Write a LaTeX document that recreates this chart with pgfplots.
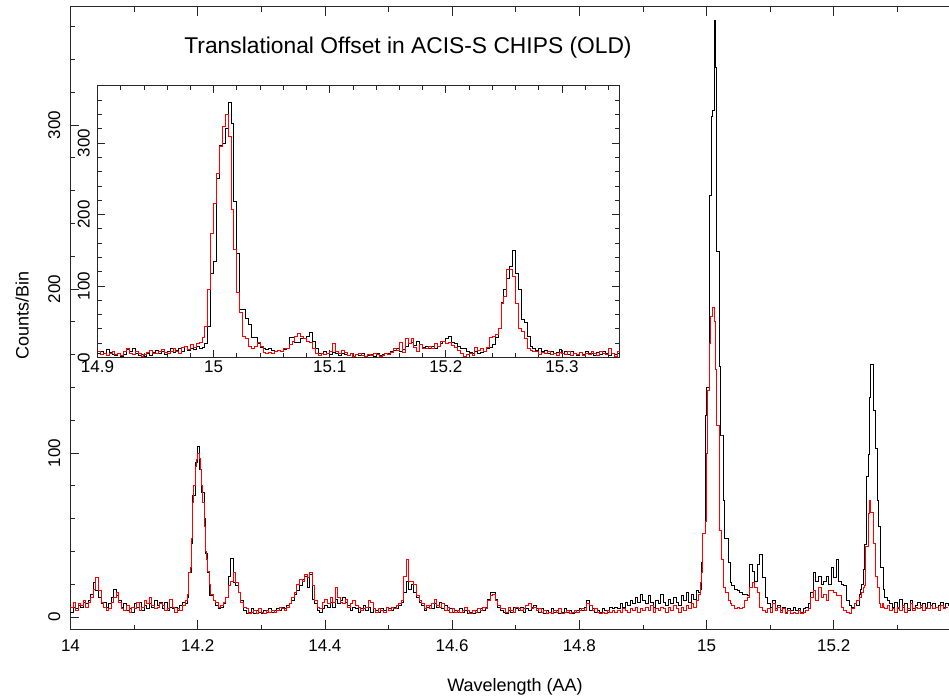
\documentclass[border=0pt]{standalone}
\usepackage{fontspec}
\setmainfont{Liberation Sans}
\usepackage{pgfplots}
\usepackage{pgfplotstable}
\pgfplotsset{compat=1.18}

\pgfplotstableread{
x b r
14.000 3 6
14.004 6 9
14.008 5 4
14.012 7 8
14.016 6 7
14.020 9 10
14.024 8 6
14.028 10 9
14.032 14 12
14.036 21 17
14.040 16 24
14.044 12 16
14.048 8 9
14.052 9 6
14.056 6 4
14.060 8 5
14.064 12 9
14.068 17 12
14.072 13 15
14.076 10 9
14.080 6 5
14.084 8 4
14.088 4 7
14.092 5 3
14.096 3 6
14.100 8 5
14.104 6 9
14.108 9 4
14.112 4 6
14.116 7 10
14.120 5 8
14.124 8 12
14.128 6 7
14.132 10 5
14.136 7 6
14.140 9 8
14.144 5 7
14.148 9 4
14.152 4 5
14.156 6 11
14.160 5 6
14.164 6 3
14.168 4 5
14.172 7 4
14.176 9 7
14.180 8 10
14.184 12 14
14.186 27 27
14.188 27 30
14.190 45 48
14.192 74 70
14.194 74 80
14.196 94 92
14.198 94 96
14.200 104 100
14.202 90 97
14.204 90 90
14.206 76 80
14.208 76 70
14.210 60 55
14.212 39 40
14.214 39 35
14.216 27 28
14.218 13 20
14.220 13 14
14.224 10 10
14.228 7 9
14.232 5 6
14.236 6 7
14.240 8 9
14.244 12 12
14.248 25 19
14.252 36 22
14.256 21 27
14.260 19 21
14.264 15 15
14.268 10 9
14.272 4 6
14.276 2 5
14.280 3 2
14.284 5 3
14.288 2 4
14.292 4 2
14.296 3 5
14.300 2 3
14.304 4 2
14.308 3 4
14.312 5 3
14.316 3 4
14.320 4 3
14.324 5 4
14.328 4 6
14.332 6 5
14.336 5 4
14.340 7 6
14.344 8 8
14.348 10 12
14.352 14 15
14.356 16 20
14.360 19 23
14.364 23 22
14.368 25 26
14.372 18 24
14.376 26 27
14.380 11 19
14.384 8 10
14.388 4 6
14.392 3 5
14.396 5 9
14.400 7 11
14.404 6 8
14.408 9 12
14.412 6 9
14.416 11 18
14.420 8 12
14.424 10 9
14.428 12 8
14.432 9 11
14.436 7 6
14.440 4 8
14.444 6 10
14.448 5 7
14.452 3 6
14.456 5 4
14.460 7 5
14.464 4 6
14.468 6 10
14.472 3 9
14.476 5 5
14.480 4 3
14.484 3 5
14.488 5 4
14.492 4 3
14.496 6 6
14.500 5 4
14.504 4 6
14.508 6 5
14.512 5 7
14.516 7 8
14.520 9 10
14.524 15 25
14.528 22 35
14.532 17 22
14.536 20 22
14.540 15 20
14.544 12 13
14.548 9 10
14.552 7 8
14.556 4 5
14.560 6 7
14.564 7 5
14.568 5 8
14.572 8 11
14.576 6 7
14.580 9 6
14.584 5 8
14.588 7 4
14.592 4 6
14.596 5 3
14.600 3 5
14.604 4 3
14.608 3 4
14.612 5 3
14.616 3 4
14.620 4 6
14.624 2 4
14.628 3 2
14.632 2 4
14.636 4 3
14.640 3 5
14.644 5 4
14.648 4 6
14.652 6 5
14.656 11 10
14.660 15 13
14.664 15 14
14.668 11 10
14.672 6 7
14.676 4 5
14.680 3 5
14.684 2 3
14.688 4 6
14.692 3 4
14.696 6 3
14.700 5 6
14.704 4 5
14.708 6 4
14.712 3 5
14.716 5 7
14.720 4 8
14.724 6 5
14.728 7 6
14.732 5 4
14.736 3 5
14.740 5 3
14.744 2 4
14.748 4 2
14.752 3 3
14.756 5 2
14.760 3 4
14.764 4 3
14.768 2 5
14.772 3 2
14.776 5 3
14.780 3 4
14.784 4 2
14.788 2 3
14.792 3 4
14.796 4 3
14.800 5 4
14.804 4 5
14.808 6 4
14.812 10 8
14.816 4 7
14.820 5 4
14.824 3 5
14.828 4 3
14.832 3 2
14.836 5 3
14.840 4 2
14.844 3 4
14.848 6 3
14.852 5 4
14.856 6 3
14.860 5 4
14.864 8 3
14.868 6 5
14.872 9 4
14.876 7 3
14.880 10 5
14.884 8 4
14.888 12 6
14.892 9 3
14.896 14 5
14.900 10 4
14.904 8 6
14.908 13 4
14.912 9 7
14.916 6 3
14.920 10 5
14.924 8 4
14.928 14 6
14.932 9 5
14.936 7 3
14.940 11 6
14.944 8 4
14.948 12 7
14.952 9 5
14.956 7 3
14.960 13 6
14.964 10 4
14.968 15 7
14.972 9 5
14.976 14 8
14.980 11 6
14.984 16 10
14.988 15 14
14.990 17 21
14.992 33 27
14.994 51 51
14.996 51 51
14.998 123 58
15.000 140 100
15.002 140 138
15.004 257 167
15.006 257 183
15.008 305 183
15.010 309 189
15.012 364 180
15.014 335 151
15.016 223 117
15.018 223 117
15.020 153 53
15.022 111 53
15.024 111 35
15.026 71 18
15.028 48 18
15.030 48 15
15.032 48 15
15.034 33 10
15.036 33 10
15.038 21 8
15.040 19 7
15.044 17 5
15.048 16 6
15.052 15 5
15.056 14 6
15.060 14 10
15.064 13 12
15.068 32 18
15.072 28 21
15.076 22 18
15.080 32 15
15.084 38 6
15.088 24 4
15.092 12 3
15.096 8 5
15.100 6 3
15.104 10 8
15.108 5 4
15.112 7 6
15.116 4 3
15.120 6 5
15.124 3 2
15.128 5 4
15.132 4 2
15.136 6 3
15.140 4 2
15.144 5 4
15.148 3 2
15.152 5 3
15.156 6 4
15.160 8 5
15.164 15 12
15.168 27 16
15.172 22 10
15.176 25 18
15.180 20 12
15.184 22 14
15.188 25 10
15.192 20 16
15.196 30 16
15.200 24 15
15.204 35 13
15.208 22 13
15.212 20 6
15.216 19 4
15.220 10 3
15.224 7 2
15.228 6 5
15.232 8 8
15.236 7 10
15.240 14 12
15.242 17 12
15.244 20 15
15.246 29 18
15.248 44 19
15.250 44 43
15.252 86 43
15.254 99 63
15.256 134 71
15.258 154 64
15.260 154 64
15.262 126 45
15.264 126 45
15.266 103 25
15.268 71 18
15.270 55 18
15.272 55 8
15.274 30 6
15.276 30 8
15.278 17 6
15.280 12 5
15.284 10 7
15.288 8 4
15.292 6 5
15.296 9 3
15.300 5 6
15.304 11 4
15.308 6 7
15.312 8 3
15.316 4 5
15.320 10 8
15.324 5 4
15.328 7 6
15.332 9 5
15.336 6 7
15.340 8 4
15.344 5 6
15.348 9 5
15.352 7 7
15.356 8 5
15.360 6 6
15.364 7 4
15.368 9 7
15.372 6 5
15.376 8 6
15.380 7 6
}\maindata

\pgfplotstableread{
x b r
14.9000 6 8
14.9025 9 4
14.9050 5 6
14.9075 11 3
14.9100 7 5
14.9125 4 8
14.9150 3 4
14.9175 5 6
14.9200 2 3
14.9225 4 9
14.9250 11 12
14.9275 8 6
14.9300 12 4
14.9325 5 8
14.9350 3 5
14.9375 4 2
14.9400 2 4
14.9425 6 7
14.9450 3 10
14.9475 7 6
14.9500 10 5
14.9525 6 8
14.9550 8 11
14.9575 4 7
14.9600 9 5
14.9625 12 9
14.9650 7 12
14.9675 10 8
14.9700 12 6
14.9725 8 14
14.9750 15 16
14.9775 10 11
14.9800 13 18
14.9825 11 14
14.9850 16 20
14.9875 12 21
14.9900 14 28
14.9925 20 44
14.9950 44 95
14.9975 118 174
15.0000 135 216
15.0025 251 258
15.0050 297 295
15.0075 300 323
15.0100 320 340
15.0125 357 309
15.0150 328 207
15.0175 219 151
15.0200 146 91
15.0225 67 63
15.0250 67 30
15.0275 55 26
15.0300 46 16
15.0325 28 12
15.0350 28 16
15.0375 19 21
15.0400 14 16
15.0425 12 7
15.0450 11 5
15.0475 12 7
15.0500 10 6
15.0525 9 8
15.0550 10 10
15.0575 8 9
15.0600 11 12
15.0625 12 12
15.0650 28 18
15.0675 28 23
15.0700 21 30
15.0725 21 33
15.0750 26 30
15.0775 26 26
15.0800 30 22
15.0825 35 21
15.0850 23 12
15.0875 12 5
15.0900 6 3
15.0925 5 5
15.0950 8 4
15.0975 6 6
15.1000 4 9
15.1025 7 19
15.1050 5 8
15.1075 3 5
15.1100 6 10
15.1125 4 7
15.1150 3 3
15.1175 5 5
15.1200 2 2
15.1225 4 4
15.1250 3 6
15.1275 5 3
15.1300 2 2
15.1325 3 4
15.1350 4 3
15.1375 2 6
15.1400 5 4
15.1425 3 2
15.1450 4 3
15.1475 6 5
15.1500 5 4
15.1525 8 7
15.1550 10 12
15.1575 12 10
15.1600 9 21
15.1625 11 7
15.1650 16 26
15.1675 19 20
15.1700 21 26
15.1725 17 14
15.1750 23 9
15.1775 18 18
15.1800 14 12
15.1825 16 12
15.1850 13 16
15.1875 15 12
15.1900 12 19
15.1925 16 15
15.1950 19 23
15.1975 23 22
15.2000 26 20
15.2025 30 21
15.2050 21 17
15.2075 20 14
15.2100 16 10
15.2125 12 5
15.2150 12 2
15.2175 9 4
15.2200 7 5
15.2225 6 3
15.2250 8 14
15.2275 5 10
15.2300 7 13
15.2325 9 8
15.2350 12 14
15.2375 14 28
15.2400 18 30
15.2425 28 32
15.2450 40 40
15.2475 77 75
15.2500 95 86
15.2525 110 123
15.2550 128 123
15.2575 150 114
15.2600 118 75
15.2625 95 40
15.2650 53 37
15.2675 49 26
15.2700 30 12
15.2725 16 10
15.2750 12 8
15.2775 10 9
15.2800 12 4
15.2825 8 7
15.2850 10 5
15.2875 6 8
15.2900 9 4
15.2925 5 6
15.2950 7 3
15.2975 11 7
15.3000 6 5
15.3025 8 4
15.3050 4 8
15.3075 9 3
15.3100 5 6
15.3125 3 4
15.3150 7 7
15.3175 4 3
15.3200 8 5
15.3225 5 4
15.3250 6 8
15.3275 3 5
15.3300 7 3
15.3325 4 9
15.3350 9 6
15.3375 5 4
15.3400 3 12
15.3425 6 5
15.3450 4 2
15.3475 5 8
15.3500 5 8
}\insetdata

\begin{document}
\begin{tikzpicture}
\useasboundingbox (-70.5bp,-68.5bp) rectangle (878.5bp,629.5bp);
\begin{axis}[
  name=main, at={(0,0)}, anchor=south west,
  scale only axis, width=878.5bp, height=622.5bp,
  xmin=14, xmax=15.3813, ymin=-7.6, ymax=372,
  axis x line*=box, axis y line*=left,
  axis line style={line width=1bp, black!85},
  xtick={14,14.2,14.4,14.6,14.8,15,15.2},
  minor xtick={14.1,14.3,14.5,14.7,14.9,15.1,15.3},
  ytick={0,100,200,300},
  minor ytick={20,40,60,80,120,140,160,180,220,240,260,280,320,340,360},
  tick align=inside,
  major tick length=9bp, minor tick length=5bp,
  every tick/.append style={black!85, line width=0.8bp},
  tick label style={font=\fontsize{17bp}{20bp}\selectfont},
  xticklabel style={yshift=-6.5bp},
  yticklabel style={xshift=-6.8bp, rotate=90, anchor=south},
  /pgf/number format/assume math mode=true,
  xlabel={Wavelength (AA)},
  ylabel={Counts/Bin},
  label style={font=\fontsize{18bp}{21bp}\selectfont},
  xlabel style={at={(axis description cs:0.506,-0.0999)}, anchor=base},
  ylabel style={at={(axis description cs:-0.0478,0.505)}, anchor=base},
]
\addplot[const plot, black, line width=0.9bp] table[x=x,y=b]{\maindata};
\addplot[const plot, red, line width=0.9bp] table[x=x,y=r]{\maindata};
\end{axis}
\node[anchor=base, font=\fontsize{22.8bp}{26bp}\selectfont] at (337.5bp,575.5bp) {Translational Offset in ACIS-S CHIPS (OLD)};
\begin{axis}[
  at={(27bp,272.1bp)}, anchor=south west,
  scale only axis, width=522.5bp, height=271.4bp,
  xmin=14.9, xmax=15.35, ymin=0, ymax=380,
  axis line style={line width=1bp, black!85},
  axis background/.style={fill=white},
  xtick={14.9,15,15.1,15.2,15.3},
  minor xtick={14.92,14.94,14.96,14.98,15.02,15.04,15.06,15.08,15.12,15.14,15.16,15.18,15.22,15.24,15.26,15.28,15.32,15.34},
  ytick={0,100,200,300},
  minor ytick={20,40,60,80,120,140,160,180,220,240,260,280,320,340,360},
  tick align=inside,
  major tick length=7.5bp, minor tick length=4.5bp,
  every tick/.append style={black!85, line width=0.8bp},
  tick label style={font=\fontsize{17bp}{20bp}\selectfont},
  yticklabel style={xshift=-4.3bp, rotate=90, anchor=south},
  /pgf/number format/assume math mode=true,
]
\addplot[const plot, black, line width=0.9bp] table[x=x,y=b]{\insetdata};
\addplot[const plot, red, line width=0.9bp] table[x=x,y=r]{\insetdata};
\end{axis}
\end{tikzpicture}
\end{document}
